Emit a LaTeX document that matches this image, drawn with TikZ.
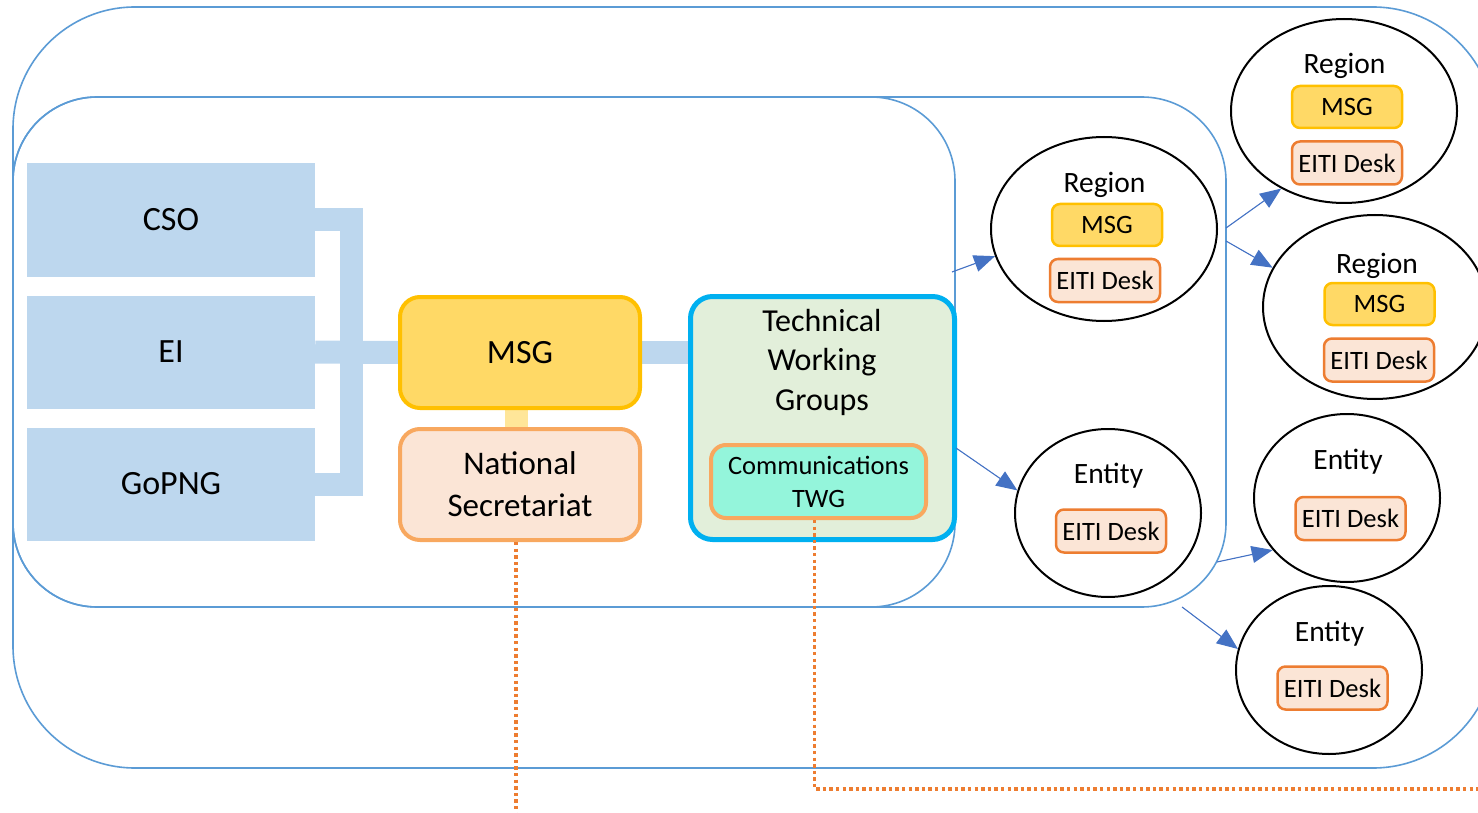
\documentclass[tikz,border=0pt]{standalone}
\usepackage{fontspec}
\setmainfont{Carlito}
\usetikzlibrary{shapes.geometric,arrows.meta,backgrounds}
\definecolor{frameblue}{HTML}{5B9BD5}
\definecolor{boxblue}{HTML}{BDD7EE}
\definecolor{msgfill}{HTML}{FFD966}
\definecolor{msgline}{HTML}{FFC000}
\definecolor{stubyellow}{HTML}{FFE699}
\definecolor{deskfill}{HTML}{FBE5D6}
\definecolor{deskline}{HTML}{ED7D31}
\definecolor{secline}{HTML}{F8A85F}
\definecolor{twgfill}{HTML}{E2EFDA}
\definecolor{twgline}{HTML}{00B0F0}
\definecolor{commfill}{HTML}{94F5DB}
\definecolor{arrowblue}{HTML}{4472C4}
\tikzset{
  >={Triangle[length=21pt,width=17pt]},
  frame/.style={draw=frameblue,line width=1.6pt},
  party/.style={fill=boxblue,minimum width=288pt,minimum height=113pt,
    inner sep=0pt,font=\fontsize{34}{40}\selectfont},
  link/.style={boxblue,line width=23pt},
  stub/.style={stubyellow,line width=23pt},
  msgbox/.style={draw=msgline,fill=msgfill,line width=4pt,rounded corners=20pt,
    minimum width=240pt,minimum height=111pt,inner sep=0pt,
    font=\fontsize{34}{40}\selectfont},
  secbox/.style={draw=secline,fill=deskfill,line width=4pt,rounded corners=20pt,
    minimum width=240pt,minimum height=111pt,inner sep=0pt,align=center,
    font=\fontsize{33}{42}\selectfont},
  twgbox/.style={draw=twgline,fill=twgfill,line width=5pt,rounded corners=22pt,
    minimum width=264pt,minimum height=243pt,inner sep=0pt},
  twgtitle/.style={align=center,inner sep=0pt,font=\fontsize{32}{39.5}\selectfont},
  commbox/.style={draw=secline,fill=commfill,line width=4pt,rounded corners=15pt,
    minimum width=215pt,minimum height=73pt,inner sep=0pt,align=center,
    font=\fontsize{26.5}{33}\selectfont},
  area/.style={ellipse,draw=black,line width=2pt,inner sep=0pt},
  tag/.style={anchor=base,inner sep=0pt,font=\fontsize{29.5}{34}\selectfont},
  minimsg/.style={draw=msgline,fill=msgfill,line width=2.5pt,rounded corners=8pt,
    minimum width=110pt,minimum height=42pt,inner sep=0pt,
    font=\fontsize{26.5}{30}\selectfont},
  desk/.style={draw=deskline,fill=deskfill,line width=2.5pt,rounded corners=8pt,
    minimum width=110pt,minimum height=43pt,inner sep=0pt,
    font=\fontsize{26.5}{30}\selectfont},
  flow/.style={->,draw=arrowblue,fill=arrowblue,line width=1.1pt},
  dots/.style={deskline,line width=3.4pt,dash pattern=on 3.4pt off 3.2pt},
}
\begin{document}
\begin{tikzpicture}[x=1pt,y=-1pt]
  \useasboundingbox (0,0) rectangle (1478,813);
  \clip (0,0) rectangle (1478,813);
  % nested frames
  \draw[frame,rounded corners=122pt] (13,7) rectangle (1495,768);
  \draw[frame,rounded corners=84pt] (13,97) rectangle (1226,607);
  \draw[frame,rounded corners=84pt] (13,97) rectangle (955,607);

  % national level
  \node[party] (cso) at (171,220) {CSO};
  \node[party] (ei) at (171,352) {EI};
  \node[party] (gopng) at (171,484) {GoPNG};
  \node[msgbox] (msg) at (520,352.5) {MSG};
  \node[secbox] (nsec) at (520,484.5) {National\\Secretariat};
  \node[twgbox] (twg) at (822.5,418) {};
  \node[twgtitle] (twgt) at (822,362) {Technical\\Working\\Groups};
  \node[commbox] (comm) at (818.5,481.5) {Communications\\TWG};

  \coordinate (jn) at (351,352);
  \begin{scope}[on background layer]
    \draw[link] (cso.east) -| (jn);
    \draw[link] (gopng.east) -| (jn);
    \draw[link] (ei.east) -- (msg.west);
    \draw[link] (msg.east) -- (msg.east -| twg.west);
    \draw[stub] ([xshift=-4pt]msg.south) -- ([xshift=-4pt]nsec.north);
  \end{scope}

  % regions
  \node[area,minimum width=226pt,minimum height=184pt] (rgA) at (1104,229) {};
  \node[tag] (rgA-t) at (1104.5,193) {Region};
  \node[minimsg] (rgA-m) at (1107,225) {MSG};
  \node[desk] (rgA-d) at (1105,280.5) {EITI Desk};

  \node[area,minimum width=226pt,minimum height=184pt] (rgB) at (1344,111) {};
  \node[tag] (rgB-t) at (1344.5,74) {Region};
  \node[minimsg] (rgB-m) at (1347,107) {MSG};
  \node[desk] (rgB-d) at (1347,163) {EITI Desk};

  \node[area,minimum width=224pt,minimum height=184pt] (rgC) at (1375,307) {};
  \node[tag] (rgC-t) at (1377,273) {Region};
  \node[minimsg] (rgC-m) at (1379.5,304) {MSG};
  \node[desk] (rgC-d) at (1379,360) {EITI Desk};

  % entities
  \node[area,minimum width=186pt,minimum height=168pt] (enA) at (1108,513) {};
  \node[tag] (enA-t) at (1108.5,483) {Entity};
  \node[desk] (enA-d) at (1111,531) {EITI Desk};

  \node[area,minimum width=186pt,minimum height=168pt] (enB) at (1347,498) {};
  \node[tag] (enB-t) at (1348,469) {Entity};
  \node[desk] (enB-d) at (1350.5,518.5) {EITI Desk};

  \node[area,minimum width=186pt,minimum height=168pt] (enC) at (1329,670) {};
  \node[tag] (enC-t) at (1329.5,641) {Entity};
  \node[desk] (enC-d) at (1332.5,688) {EITI Desk};

  % arrows
  \coordinate (a1) at (952,272);
  \coordinate (a2) at (1226,228);
  \coordinate (a3) at (1226,241);
  \coordinate (a4) at (956,448);
  \coordinate (a5) at (1217,562);
  \coordinate (a6) at (1182,607);
  \draw[flow] (a1) -- (rgA.194);
  \draw[flow] (a2) -- (rgB.231);
  \draw[flow] (a3) -- (rgC.159);
  \draw[flow] (a4) -- (enA.166);
  \draw[flow] (a5) -- (enB.215);
  \draw[flow] (a6) -- (enC.167);

  % dotted reporting lines
  \coordinate (rim) at (1490,789);
  \draw[dots] ([xshift=-4pt]nsec.south) -- ++(0,290);
  \draw[dots] ([xshift=-4pt]comm.south) |- (rim);
\end{tikzpicture}
\end{document}
